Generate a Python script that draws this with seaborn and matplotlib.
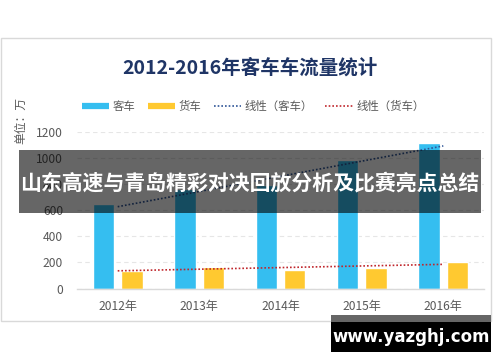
import numpy as np
import pandas as pd
import matplotlib
matplotlib.use("Agg")
import matplotlib.pyplot as plt
from matplotlib.lines import Line2D
from matplotlib.patches import Rectangle
import seaborn as sns

years = ["2012年", "2013年", "2014年", "2015年", "2016年"]
bus = [648, 760, 790, 985, 1118]
truck = [137, 165, 140, 157, 203]
series_names = ["客车", "货车"]
trend_names = ["线性（客车）", "线性（货车）"]
yticks = [0, 200, 400, 600, 800, 1000, 1200]

sns.set_style("white")
plt.rcParams['font.family'] = ['Noto Sans CJK SC', 'DejaVu Sans']

c_bus = "#35BEF0"
c_truck = "#FFC930"
c_bus_tr = "#2F5597"
c_truck_tr = "#C0272D"
tick_col = "#595959"

df = pd.DataFrame({
    "year": years * 2,
    "value": bus + truck,
    "type": [series_names[0]] * len(years) + [series_names[1]] * len(years),
})

W, H = 500, 362
fig = plt.figure(figsize=(W / 100, H / 100), dpi=100)
fig.patch.set_facecolor("white")

# chart frame
fig.add_artist(Rectangle((1 / W, 1 - 321 / H), 490 / W, 283 / H,
                         transform=fig.transFigure, fill=False,
                         edgecolor="#d9d9d9", lw=1.0, zorder=0))

ax = fig.add_axes([77 / W, 1 - 288.5 / H, 407 / W, 156.5 / H])
sns.barplot(data=df, x="year", y="value", hue="type",
            palette=[c_bus, c_truck], width=0.7, gap=0.25,
            saturation=1, legend=False, ax=ax)

xs = np.arange(len(years))
for vals, col in [(bus, c_bus_tr), (truck, c_truck_tr)]:
    k, b = np.polyfit(xs, vals, 1)
    ax.plot(xs, k * xs + b, linestyle=(0, (1, 1.2)), color=col, lw=1.2, zorder=5)

ax.set_xlim(-0.5, len(years) - 0.5)
ax.set_ylim(0, 1200)
ax.set_yticks(yticks)
ax.set_yticklabels([str(v) for v in yticks])
ax.yaxis.grid(True, color="#e6e6e6", linestyle=(0, (4, 3)), lw=0.8)
ax.set_axisbelow(True)
for s in ["top", "right", "left"]:
    ax.spines[s].set_visible(False)
ax.spines["bottom"].set_color("#d9d9d9")
ax.spines["bottom"].set_linewidth(1.0)
ax.set_xlabel("")
ax.set_ylabel("")
ax.tick_params(axis="both", length=0, labelsize=8.7, colors=tick_col)
ax.tick_params(axis="y", pad=10)
ax.tick_params(axis="x", pad=8)

fig.text(21 / W, 1 - 121 / H, "单位：万", rotation=90, ha="center", va="center",
         fontsize=8.5, color=tick_col)

fig.text(250 / W, 1 - 68 / H, "2012-2016年客车车流量统计", ha="center", va="center",
         fontsize=14, fontweight="bold", color="#1F3566")

handles = [
    Line2D([], [], color=c_bus, lw=4.5, solid_capstyle="butt"),
    Line2D([], [], color=c_truck, lw=4.5, solid_capstyle="butt"),
    Line2D([], [], color=c_bus_tr, lw=1.2, linestyle=(0, (1, 1.2))),
    Line2D([], [], color=c_truck_tr, lw=1.2, linestyle=(0, (1, 1.2))),
]
leg = fig.legend(handles, series_names + trend_names, loc="center",
                 bbox_to_anchor=(253 / W, 1 - 106 / H), ncol=4, frameon=False,
                 fontsize=8.2, handlelength=2.4, handletextpad=0.3,
                 columnspacing=1.1)
for t in leg.get_texts():
    t.set_color(tick_col)

# overlay banner
fig.add_artist(Rectangle((19 / W, 1 - 213 / H), 462 / W, 63 / H,
                         transform=fig.transFigure, facecolor="black",
                         alpha=0.6, edgecolor="none", zorder=10))
fig.text(250 / W, 1 - 183 / H, "山东高速与青岛精彩对决回放分析及比赛亮点总结",
         ha="center", va="center", fontsize=15, fontweight="bold",
         color="white", zorder=11)

# watermark box
fig.add_artist(Rectangle((331 / W, 1 - 322 / H), 160 / W, 7 / H,
                         transform=fig.transFigure, facecolor="#666666",
                         edgecolor="none", zorder=10))
fig.add_artist(Rectangle((331 / W, 1 - 352 / H), 160 / W, 30 / H,
                         transform=fig.transFigure, facecolor="black",
                         edgecolor="none", zorder=10))
fig.text(411 / W, 1 - 337 / H, "www.yazghj.com", ha="center", va="center",
         fontsize=12, fontweight="bold", color="white", zorder=11,
         family=["DejaVu Sans"])

fig.savefig("out.png", dpi=100)
